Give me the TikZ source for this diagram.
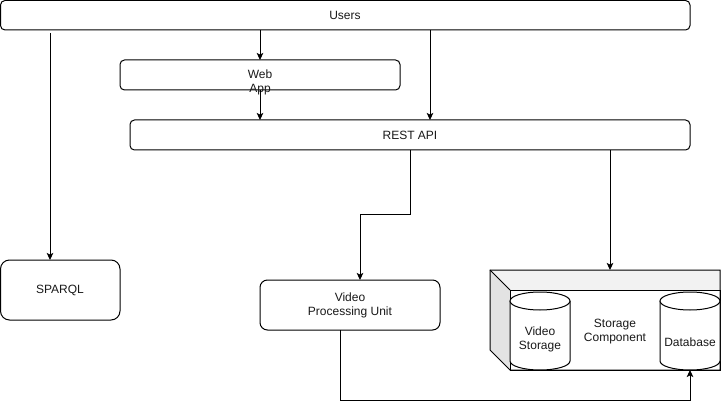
\documentclass[tikz,border=0pt]{standalone}
\usepackage{fontspec}
\setmainfont{Liberation Sans}
\usetikzlibrary{arrows.meta,calc}
\begin{document}
\begin{tikzpicture}[x=1pt,y=-1pt,
  box/.style={draw=black,line width=1pt,rounded corners=#1,fill=white},
  box/.default=4.5pt,
  lbl/.style={font=\fontsize{12}{14}\selectfont,text=black!90,align=center,inner sep=0pt},
  conn/.style={draw=black,line width=1pt,-{Stealth[length=7pt,width=6.5pt,inset=1.5pt]}},
  plain/.style={draw=black,line width=1pt},
  cylbody/.style={draw=black,line width=1pt,fill=white}
]
\useasboundingbox (0,0) rectangle (721,409);
\fill[white] (0,0) rectangle (721,409);

% Users
\draw[box] (0.5,0.5) rectangle (690,30);
\node[lbl] (users) at (345,15.5) {Users};
\coordinate (uA) at (260,30);
\coordinate (uB) at (430,30);
\coordinate (uC) at (50,33);

% Web App
\draw[box] (120,60) rectangle (400,90);
\coordinate (webT) at (260,60);
\coordinate (webB) at (260,90);
\node[lbl] (webapp) at (260,82.5) {Web\\App};

% REST API
\draw[box] (130,120) rectangle (690,150);
\node[lbl] (rest) at (410,135) {REST API};
\coordinate (restT1) at (260,120);
\coordinate (restT2) at (430,120);
\coordinate (restB1) at (410,150);
\coordinate (restB2) at (610,150);

% SPARQL
\draw[box=9pt] (0.5,260) rectangle (120,320);
\node[lbl] (sparql) at (60,290) {SPARQL};
\coordinate (sparqlT) at (50,260);

% Video Processing Unit
\draw[box=7.5pt] (260,280) rectangle (440,330);
\node[lbl] (vpu) at (350,305) {Video\\Processing Unit};
\coordinate (vpuT) at (360,280);
\coordinate (vpuB) at (340,330);

% Storage cube
\fill[black!5] (490,270) -- (720,270) -- (720,290) -- (510,290) -- cycle;
\fill[black!11] (490,270) -- (510,290) -- (510,370) -- (490,350) -- cycle;
\draw[plain,fill=white] (510,290) rectangle (720,370);
\draw[plain,line join=miter] (490,270) -- (720,270) -- (720,370) -- (510,370) -- (490,350) -- cycle;
\draw[plain] (490,270) -- (510,290);
\node[lbl] (storage) at (615,332) {Storage\\Component};
\coordinate (storT) at (610,270);

% cylinders
\draw[cylbody] (510,301) -- (510,361) arc[start angle=180,end angle=0,x radius=30,y radius=9] -- (570,301);
\draw[cylbody] (540,301) ellipse[x radius=30,y radius=9];
\node[lbl] (vstore) at (540,339) {Video\\Storage};
\draw[cylbody] (660,301) -- (660,361) arc[start angle=180,end angle=0,x radius=30,y radius=9] -- (720,301);
\draw[cylbody] (690,301) ellipse[x radius=30,y radius=9];
\node[lbl] (db) at (690,342) {Database};
\coordinate (dbB) at (690,370);

% connectors
\draw[conn] (uA) -- (webT);
\draw[conn] (webB) -- (restT1);
\draw[conn] (uB) -- (restT2);
\draw[conn] (uC) -- (sparqlT);
\draw[conn] (restB1) -- (410,215) -- (360,215) -- (vpuT);
\draw[conn] (restB2) -- (storT);
\draw[conn] (vpuB) -- (340,400) -- (690,400) -- (dbB);
\end{tikzpicture}
\end{document}
